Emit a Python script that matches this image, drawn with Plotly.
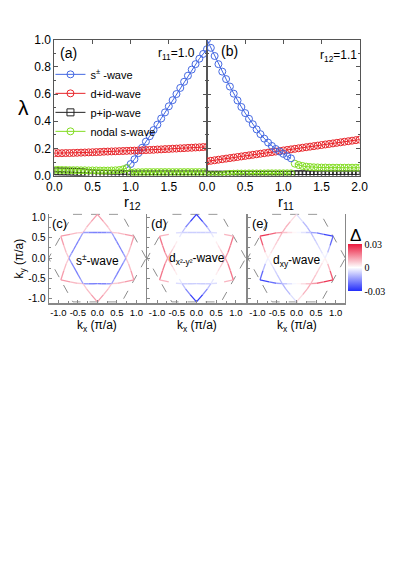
import math
import plotly.graph_objects as go
from plotly.colors import sample_colorscale

W, H = 399, 564
OFF = 8  # the page body adds an 8 px margin; positions below are reference pixels
def px(x): return (x - OFF) / W
def py(y): return 1 - (y - OFF) / H

# ---------------- data: pairing strength lambda ----------------
R_GRID = [0.00, 0.05, 0.10, 0.15, 0.20, 0.25, 0.30, 0.35, 0.40, 0.45, 0.50, 0.55, 0.60, 0.65, 0.70,
          0.75, 0.80, 0.85, 0.90, 0.95, 1.00, 1.05, 1.10, 1.15, 1.20, 1.25, 1.30, 1.35, 1.40, 1.45,
          1.50, 1.55, 1.60, 1.65, 1.70, 1.75, 1.80, 1.85, 1.90, 1.95, 2.00]

# panel (a): r11 = 1.0, x = r12
BLUE_A = [None] * 19 + [0.055, 0.085, 0.12, 0.165, 0.205, 0.25, 0.29, 0.335, 0.375, 0.42, 0.465,
                        0.51, 0.555, 0.60, 0.645, 0.69, 0.735, 0.78, 0.82, 0.86, 0.895, 0.93]
RED_A = [0.165, 0.165, 0.165, 0.166, 0.166, 0.167, 0.168, 0.169, 0.170, 0.171, 0.172, 0.173, 0.174,
         0.176, 0.177, 0.178, 0.179, 0.180, 0.181, 0.182, 0.183, 0.184, 0.185, 0.186, 0.188, 0.189,
         0.190, 0.192, 0.193, 0.195, 0.196, 0.198, 0.199, 0.201, 0.202, 0.204, 0.205, 0.207, 0.208,
         0.210, 0.211]
BLACK_A = [0.032, 0.031, 0.030, 0.030, 0.029, 0.028, 0.027, 0.025, 0.022, 0.019, 0.016, 0.014, 0.013,
           0.012, 0.012, 0.011, 0.011, 0.010, 0.010, 0.009, 0.009, 0.008, 0.008, 0.008, 0.008, 0.008,
           0.008, 0.008, 0.008, 0.008, 0.008, 0.008, 0.008, 0.008, 0.008, 0.008, 0.008, 0.008, 0.008,
           0.008, 0.008]
GREEN_A = [0.042, 0.042, 0.041, 0.041, 0.040, 0.040, 0.040, 0.039, 0.039, 0.038, 0.038, 0.038, 0.037,
           0.037, 0.037, 0.038, 0.039, 0.041, 0.046, 0.055] + [None] * 21
GREEN_A2 = [None] * 20 + [0.020, 0.024, 0.025, 0.025, 0.026, 0.026, 0.026, 0.026, 0.026, 0.026, 0.026,
                          0.026, 0.026, 0.026, 0.026, 0.026, 0.026, 0.026, 0.026, 0.026, 0.026]

# panel (b): r12 = 1.1, x = r11
BLUE_B = [1.00, 0.94, 0.88, 0.82, 0.765, 0.71, 0.655, 0.603, 0.553, 0.505, 0.46, 0.418, 0.378, 0.34,
          0.305, 0.272, 0.243, 0.218, 0.196, 0.177, 0.16, 0.143, 0.127] + [None] * 18
RED_B = [0.105, 0.109, 0.113, 0.117, 0.121, 0.125, 0.129, 0.133, 0.137, 0.141, 0.145, 0.149, 0.153,
         0.157, 0.161, 0.165, 0.169, 0.173, 0.177, 0.181, 0.185, 0.189, 0.193, 0.197, 0.201, 0.205,
         0.209, 0.213, 0.217, 0.221, 0.225, 0.229, 0.233, 0.237, 0.241, 0.245, 0.249, 0.253, 0.257,
         0.261, 0.265]
BLACK_B = [0.006] * 23 + [0.009] * 18
GREEN_B = [0.003, 0.003, 0.003, 0.003, 0.004, 0.010, 0.013, 0.014, 0.015, 0.015, 0.015, 0.016, 0.016,
           0.016, 0.016, 0.016, 0.017, 0.017, 0.017, 0.017, 0.017, 0.017, 0.017] + [None] * 18
GREEN_B2 = [None] * 23 + [0.088, 0.078, 0.071, 0.066, 0.063, 0.061, 0.060, 0.059, 0.059, 0.058, 0.058,
                          0.058, 0.058, 0.058, 0.058, 0.058, 0.058, 0.058]

# ---------------- data: Fermi surface & gap ----------------
FS_ALPHA_DEG = [0, 10, 20, 30, 40, 50, 60]          # angle from a pocket tip
FS_RADIUS = [1.08, 0.915, 0.81, 0.73, 0.673, 0.642, 0.632]
TIP_ANGLES_A = [90, 210, 330]                        # second pocket is the inverted copy
FS_PHI = list(range(0, 360, 10))
GAP_S = [-0.014, -0.017, -0.018, -0.018, -0.017, -0.014, 0.007, 0.009, 0.013, 0.013, 0.009, 0.007,
         -0.014, -0.017, -0.018, -0.018, -0.017, -0.014, 0.007, 0.009, 0.013, 0.013, 0.009, 0.007,
         -0.014, -0.017, -0.018, -0.018, -0.017, -0.014, 0.007, 0.009, 0.013, 0.013, 0.009, 0.007]
GAP_D = [0.0098, 0.0069, 0.0045, 0.0024, 0.0, -0.0034, -0.009, -0.0173, -0.0276, -0.0276, -0.0173,
         -0.009, -0.0034, 0.0, 0.0024, 0.0045, 0.0069, 0.0098, 0.0138, 0.0173, 0.018, 0.0096, 0.0,
         -0.0048, -0.0064, -0.0069, -0.0069, -0.0069, -0.0069, -0.0064, -0.0048, 0.0, 0.0096, 0.018,
         0.0173, 0.0138]
GAP_DXY = [-0.0017, -0.004, -0.0054, -0.0066, -0.008, -0.0094, -0.0107, -0.010, -0.0049, 0.0049,
           0.010, 0.0107, 0.0094, 0.008, 0.0066, 0.0054, 0.004, 0.0017, -0.0024, -0.010, -0.0214,
           -0.0263, -0.020, -0.0132, -0.0077, -0.004, -0.0012, 0.0012, 0.004, 0.0077, 0.0132, 0.020,
           0.0263, 0.0214, 0.010, 0.0024]
BZ_KX = [1.25, 0.625, -0.625, -1.25, -0.625, 0.625, 1.25]
BZ_KY = [0.0, 1.0825, 1.0825, 0.0, -1.0825, -1.0825, 0.0]
GAP_MAX = 0.03

BLUE = '#4468e2'
RED = '#e8262b'
BLACK = '#222222'
GREEN = '#82dc22'
CS = [[0.0, 'rgb(35,45,250)'], [0.5, 'rgb(255,255,255)'], [1.0, 'rgb(235,25,60)']]
FONT = "Arial, 'Liberation Sans', sans-serif"

fig = go.Figure()

def add_series(xa, ya, yvals, color, name, symbol='circle-open', legend=False, group=None):
    fig.add_trace(go.Scatter(
        x=R_GRID, y=yvals, mode='lines+markers', name=name, legendgroup=group or name,
        showlegend=legend, connectgaps=False,
        line=dict(color=color, width=1),
        marker=dict(symbol=symbol, size=7, color=color, line=dict(width=1, color=color)),
        xaxis=xa, yaxis=ya, hoverinfo='skip'))

add_series('x', 'y', BLUE_A, BLUE, 's<sup>±</sup> -wave', legend=True)
add_series('x', 'y', RED_A, RED, 'd+id-wave', legend=True)
add_series('x', 'y', BLACK_A, BLACK, 'p+ip-wave', symbol='square-open', legend=True)
add_series('x', 'y', GREEN_A, GREEN, 'nodal s-wave', legend=True)
add_series('x', 'y', GREEN_A2, GREEN, 'nodal s-wave2', group='nodal s-wave')
add_series('x2', 'y2', RED_B, RED, 'd+id b', group='d+id-wave')
add_series('x2', 'y2', BLACK_B, BLACK, 'p+ip b', symbol='square-open', group='p+ip-wave')
add_series('x2', 'y2', GREEN_B, GREEN, 'nodal b', group='nodal s-wave')
add_series('x2', 'y2', GREEN_B2, GREEN, 'nodal b2', group='nodal s-wave')
add_series('x2', 'y2', BLUE_B, BLUE, 's b', group='s<sup>±</sup> -wave')

# Fermi surface pockets
def pocket_a():
    xs, ys = [], []
    for phi in FS_PHI:
        d = min(abs(((phi - t + 180) % 360) - 180) for t in TIP_ANGLES_A)
        r = FS_RADIUS[FS_ALPHA_DEG.index(d)]
        xs.append(r * math.cos(math.radians(phi)))
        ys.append(r * math.sin(math.radians(phi)))
    xs.append(xs[0]); ys.append(ys[0])
    return xs, ys

ax_, ay_ = pocket_a()
pockets = [(ax_, ay_), ([-v for v in ax_], [-v for v in ay_])]

for xa, ya, gaps in [('x3', 'y3', GAP_S), ('x4', 'y4', GAP_D), ('x5', 'y5', GAP_DXY)]:
    fig.add_trace(go.Scatter(x=BZ_KX, y=BZ_KY, mode='lines', showlegend=False, hoverinfo='skip',
                             line=dict(color='#8c8c8c', width=1, dash='dash'), xaxis=xa, yaxis=ya))
    for xs, ys in pockets:
        cols = sample_colorscale(CS, [(g + GAP_MAX) / (2 * GAP_MAX) for g in gaps])
        for k in range(len(gaps)):
            fig.add_trace(go.Scatter(x=[xs[k], xs[k + 1]], y=[ys[k], ys[k + 1]], mode='lines',
                                     line=dict(color=cols[k], width=1.3), showlegend=False,
                                     hoverinfo='skip', xaxis=xa, yaxis=ya))

# colorbar carrier
cbar = dict(x=px(355), xanchor='left', y=py(267), yanchor='middle',
            len=48 / H, lenmode='fraction', thickness=14,
            thicknessmode='pixels', outlinewidth=0, xpad=0, ypad=0,
            tickvals=[-0.03, 0, 0.03], ticktext=['-0.03', '0', '0.03'],
            ticks='', tickfont=dict(family="'Liberation Serif', serif", size=10, color='black'))
fig.add_trace(go.Scatter(x=[0], y=[0], mode='markers', showlegend=False, hoverinfo='skip',
                         xaxis='x5', yaxis='y5',
                         marker=dict(size=1, opacity=0, color=[0], cmin=-GAP_MAX, cmax=GAP_MAX,
                                     colorscale=CS, showscale=True, colorbar=cbar)))

top_line = dict(showline=True, linecolor='#555', linewidth=1, mirror='ticks', ticks='inside',
                ticklen=4, tickcolor='#555', showgrid=False, zeroline=False,
                tickfont=dict(size=12, family=FONT, color='black'))
ya_top = dict(top_line, range=[0, 1.0], tickvals=[0, 0.2, 0.4, 0.6, 0.8, 1.0], tickformat='.1f',
              minor=dict(ticks='inside', ticklen=2, dtick=0.1, tickcolor='#555'))
fig.update_layout(
    xaxis=dict(top_line, domain=[px(48), px(207.5)], range=[0, 2.0], tickvals=[0, 0.5, 1.0, 1.5],
               ticktext=['0.0', '0.5', '1.0', '1.5'], anchor='y'),
    yaxis=dict(ya_top, domain=[py(172.7), py(33.3)], anchor='x'),
    xaxis2=dict(top_line, domain=[px(207.5), px(367)], range=[0, 2.0],
                tickvals=[0, 0.5, 1.0, 1.5, 2.0], ticktext=['0.0', '0.5', '1.0', '1.5', '2.0'], anchor='y2'),
    yaxis2=dict(ya_top, domain=[py(172.7), py(33.3)], anchor='x2', showticklabels=False),
)

bot_x = dict(showline=True, linecolor='#888', linewidth=1.5, mirror=False, ticks='inside', ticklen=3,
             tickcolor='#888', showgrid=False, zeroline=False, range=[-1.25, 1.25], tickangle=0,
             tickvals=[-1.0, -0.5, 0.0, 0.5, 1.0], ticktext=['-1.0', '-0.5', '0.0', '0.5', '1.0'],
             tickfont=dict(size=9.5, family=FONT, color='black'),
             minor=dict(ticks='inside', ticklen=2, dtick=0.25, tickcolor='#888'))
bot_y = dict(showline=True, linecolor='#888', linewidth=1, mirror=True, ticks='inside', ticklen=3,
             tickcolor='#888', showgrid=False, zeroline=False, range=[-1.1, 1.1],
             tickvals=[-1.0, -0.5, 0.0, 0.5, 1.0], ticktext=['-1.0', '-0.5', '0.0', '0.5', '1.0'],
             tickfont=dict(size=10, family=FONT, color='black'),
             minor=dict(ticks='inside', ticklen=2, dtick=0.25, tickcolor='#888'))
ydom = [py(303), py(211.6)]
fig.update_layout(
    xaxis3=dict(bot_x, domain=[px(42), px(144)], anchor='y3'),
    yaxis3=dict(bot_y, domain=ydom, anchor='x3'),
    xaxis4=dict(bot_x, domain=[px(145), px(248)], anchor='y4'),
    yaxis4=dict(bot_y, domain=ydom, anchor='x4', showticklabels=False),
    xaxis5=dict(bot_x, domain=[px(250), px(352)], anchor='y5'),
    yaxis5=dict(bot_y, domain=ydom, anchor='x5', showticklabels=False),
)

def ann(x, y, text, size, xanchor='center', yanchor='middle', angle=0, family=FONT):
    fig.add_annotation(x=px(x), y=py(y), xref='paper', yref='paper', text=text, showarrow=False,
                       xanchor=xanchor, yanchor=yanchor, textangle=angle,
                       font=dict(size=size, family=family, color='black'))

ann(16, 103, 'λ', 21)
ann(130, 200, 'r<sub>12</sub>', 15)
ann(290, 200, 'r<sub>11</sub>', 15)
ann(52, 47, '(a)', 14, xanchor='left')
ann(220, 45, '(b)', 14, xanchor='left')
ann(197, 48, 'r<sub>11</sub>=1.0', 12, xanchor='right')
ann(366, 50, 'r<sub>12</sub>=1.1', 12, xanchor='right')
ann(44, 222, '(c)', 13, xanchor='left')
ann(147, 222, '(d)', 13, xanchor='left')
ann(252, 222, '(e)', 13, xanchor='left')
ann(93, 259, 's<sup>±</sup>-wave', 12)
ann(197, 258, 'd<sub>x²-y²</sub>-wave', 12)
ann(301, 260, 'd<sub>xy</sub>-wave', 12)
ann(12, 258, 'k<sub>y</sub> (π/a)', 12, angle=-90)
ann(93, 327, 'k<sub>x</sub> (π/a)', 12)
ann(197, 327, 'k<sub>x</sub> (π/a)', 12)
ann(301, 327, 'k<sub>x</sub> (π/a)', 12)
ann(363, 234, 'Δ', 17)

fig.update_layout(
    width=W, height=H, margin=dict(l=0, r=0, t=0, b=0),
    paper_bgcolor='white', plot_bgcolor='white',
    font=dict(family=FONT, color='black'),
    legend=dict(x=px(44), y=py(54), xanchor='left', yanchor='top', bgcolor='rgba(0,0,0,0)',
                font=dict(size=11, family=FONT, color='black'), tracegroupgap=0,
                itemwidth=30),
)

fig.write_html("out.html")
